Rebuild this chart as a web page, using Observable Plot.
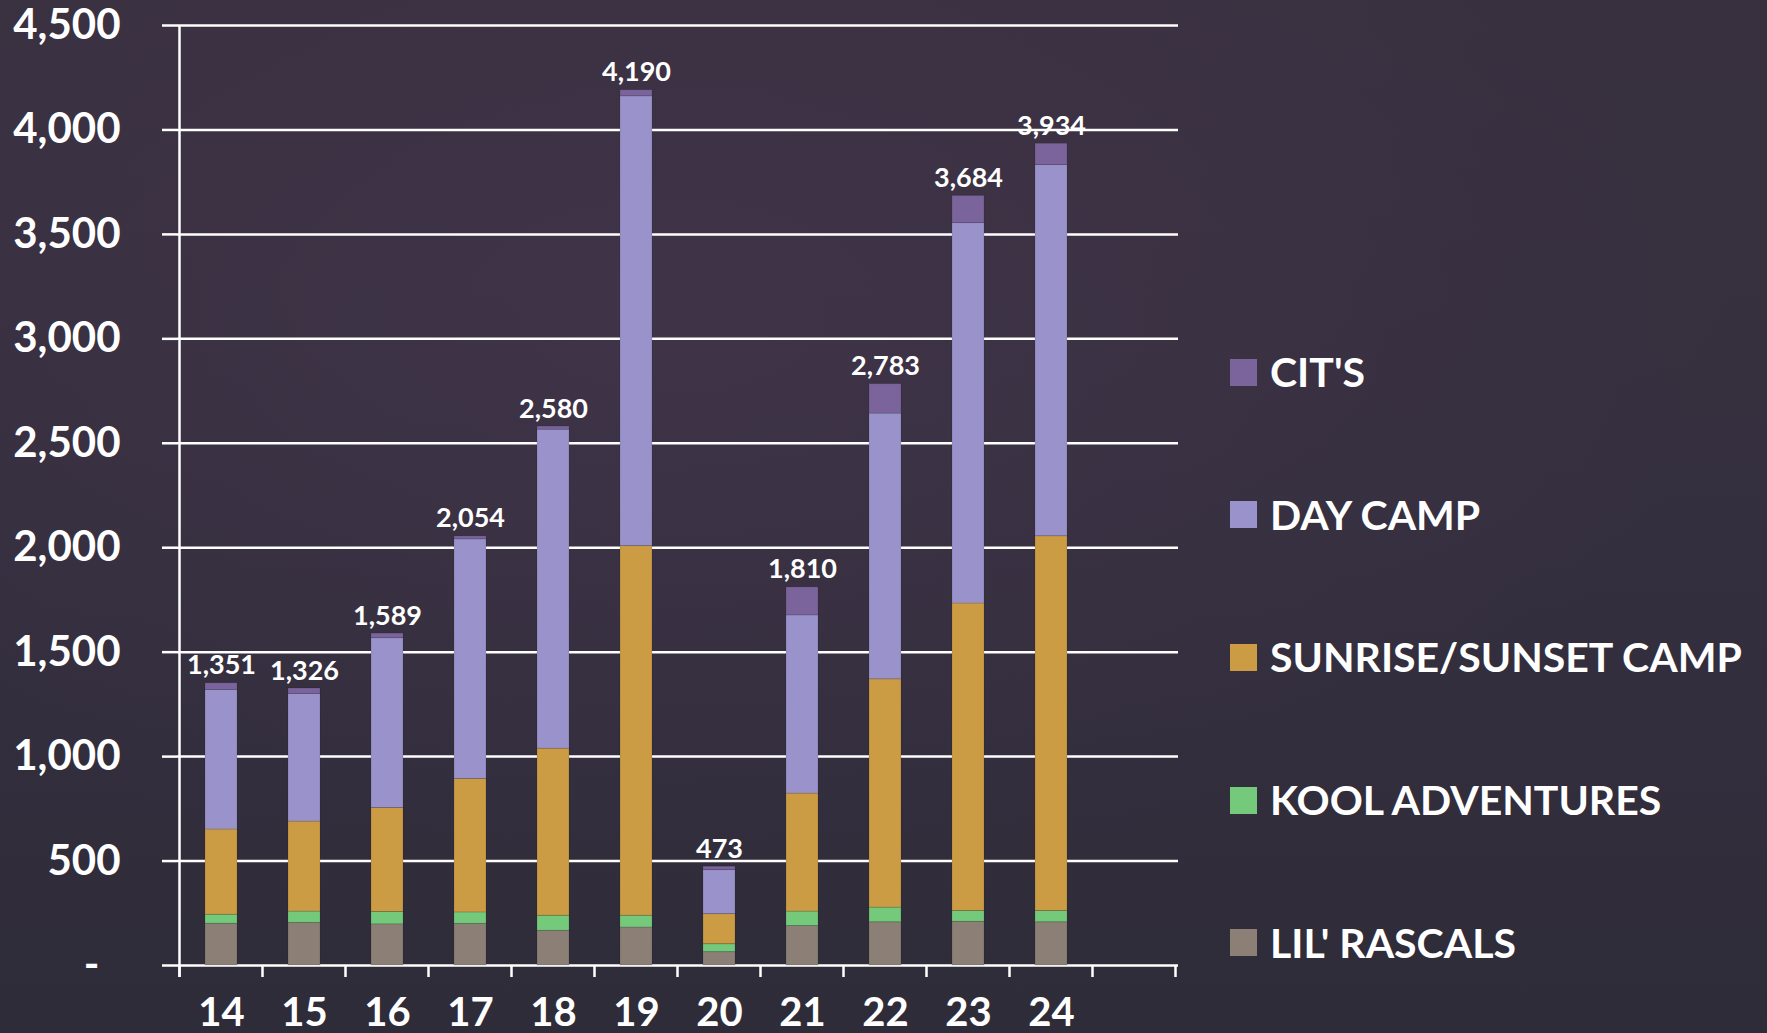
<!DOCTYPE html>
<html>
<head>
<meta charset="utf-8">
<script src="https://cdn.jsdelivr.net/npm/d3@7"></script>
<script src="https://cdn.jsdelivr.net/npm/@observablehq/plot@0.6"></script>
<style>
  html, body { margin: 0; padding: 0; width: 1767px; height: 1033px; overflow: hidden; }
  body {
    background:
      radial-gradient(ellipse 60% 55% at 38% 30%, rgba(72,55,80,0.55) 0%, rgba(72,55,80,0) 100%),
      linear-gradient(180deg, #38303f 0%, #342f3e 50%, #2f2c3a 100%);
    font-family: Lato, "Open Sans", sans-serif;
  }
  #wrap { position: relative; width: 1767px; height: 1033px; }
  .chart text { font-weight: 700; }
  #legend { position: absolute; left: 0; top: 0; width: 1767px; height: 1033px; pointer-events: none; }
  .lg-row { position: absolute; left: 1230px; display: flex; align-items: center; height: 44px; }
  .lg-sw { width: 27px; height: 27px; margin-right: 13px; flex: none; }
  .lg-tx { color: #ffffff; font-family: Lato, sans-serif; font-weight: 700; font-size: 41px; white-space: nowrap; line-height: 44px; }
</style>
</head>
<body>
<div id="wrap"><div id="legend"></div></div>
<script>
// ---- data ----
const categories = ["14", "15", "16", "17", "18", "19", "20", "21", "22", "23", "24"];
const seriesNames = ["LIL' RASCALS", "KOOL ADVENTURES", "SUNRISE/SUNSET CAMP", "DAY CAMP", "CIT'S"];
const seriesColors = ["#8c8076", "#74c97b", "#cc9c45", "#9a93cb", "#7b649c"];
const lilRascals     = [200, 204, 197, 199, 166, 182,  64, 189,  207,  209,  207];
const koolAdventures = [ 43,  54,  59,  55,  72,  56,  38,  69,   70,   52,   54];
const sunriseSunset  = [408, 431, 498, 639, 800, 1770, 144, 565, 1093, 1472, 1794];
const dayCamp        = [668, 611, 813, 1147, 1527, 2153, 211, 853, 1272, 1821, 1777];
const cits           = [ 32,  26,  22,  14,  15,  29,  16, 134,  141,  130,  102];
const totals         = [1351, 1326, 1589, 2054, 2580, 4190, 473, 1810, 2783, 3684, 3934];
const yTicks = [0, 500, 1000, 1500, 2000, 2500, 3000, 3500, 4000, 4500];

const seriesValues = [lilRascals, koolAdventures, sunriseSunset, dayCamp, cits];
const rows = [];
seriesNames.forEach((s, si) => {
  categories.forEach((c, i) => rows.push({cat: c, series: s, value: seriesValues[si][i]}));
});
const totalRows = categories.map((c, i) => ({cat: c, total: totals[i]}));

const fmt = d3.format(",");

// band boundary ticks and the vertical y axis line, drawn from the scales
function axisLines(index, scales, values, dimensions) {
  const x = scales.x, y = scales.y;
  const dom = x.domain();
  const bw = x.bandwidth();
  const step = x.step ? x.step() : (x(dom[1]) - x(dom[0]));
  const y0 = y(0);
  const bounds = dom.map(d => x(d) + bw / 2 - step / 2);
  bounds.push(bounds[bounds.length - 1] + step);
  const g = d3.create("svg:g").attr("stroke", "#ffffff").attr("stroke-width", 2.5);
  g.selectAll("line.t").data(bounds).join("line")
    .attr("x1", d => d).attr("x2", d => d)
    .attr("y1", y0).attr("y2", y0 + 12);
  g.append("line")
    .attr("x1", bounds[0]).attr("x2", bounds[0])
    .attr("y1", y(yTicks[yTicks.length - 1])).attr("y2", y0 + 12);
  return g.node();
}

const chart = Plot.plot({
  width: 1767,
  height: 1033,
  marginLeft: 177,
  marginRight: 589,
  marginTop: 25,
  marginBottom: 68,
  className: "chart",
  style: {background: "transparent", color: "#ffffff", fontFamily: "Lato, sans-serif", overflow: "visible"},
  x: {domain: [...categories, " "], paddingInner: 0.61, paddingOuter: 0.305, label: null},
  y: {domain: [0, 4500], label: null},
  color: {domain: seriesNames, range: seriesColors},
  marks: [
    Plot.ruleY(yTicks, {stroke: "#ffffff", strokeWidth: 2.5}),
    Plot.axisY({
      ticks: yTicks, tickSize: 15, tickPadding: 42, fontSize: 42, fontWeight: "bold",
      strokeWidth: 2.5, label: null,
      tickFormat: d => d === 0 ? "-\u2002" : fmt(d)
    }),
    Plot.barY(rows, {x: "cat", y: "value", fill: "series", order: seriesNames,
      stroke: "#000000", strokeOpacity: 0.12, strokeWidth: 1}),
    Plot.text(totalRows, {x: "cat", y: "total", text: d => fmt(d.total), dy: -9,
      lineAnchor: "bottom", fontSize: 27, fontWeight: "bold", fill: "#ffffff"}),
    Plot.axisX({tickSize: 0, tickPadding: 32, fontSize: 40, fontWeight: "bold", label: null,
      tickFormat: d => d.trim()}),
    axisLines
  ]
});
document.getElementById("wrap").prepend(chart);

// legend (top to bottom: reverse of stack order)
const legend = document.getElementById("legend");
const legendOrder = seriesNames.map((s, i) => ({name: s, color: seriesColors[i]})).reverse();
legendOrder.forEach((d, i) => {
  const row = document.createElement("div");
  row.className = "lg-row";
  row.style.top = (372 + i * 142.7 - 22) + "px";
  const sw = document.createElement("div");
  sw.className = "lg-sw";
  sw.style.background = d.color;
  const tx = document.createElement("div");
  tx.className = "lg-tx";
  tx.textContent = d.name;
  row.append(sw, tx);
  legend.append(row);
});
</script>
</body>
</html>
